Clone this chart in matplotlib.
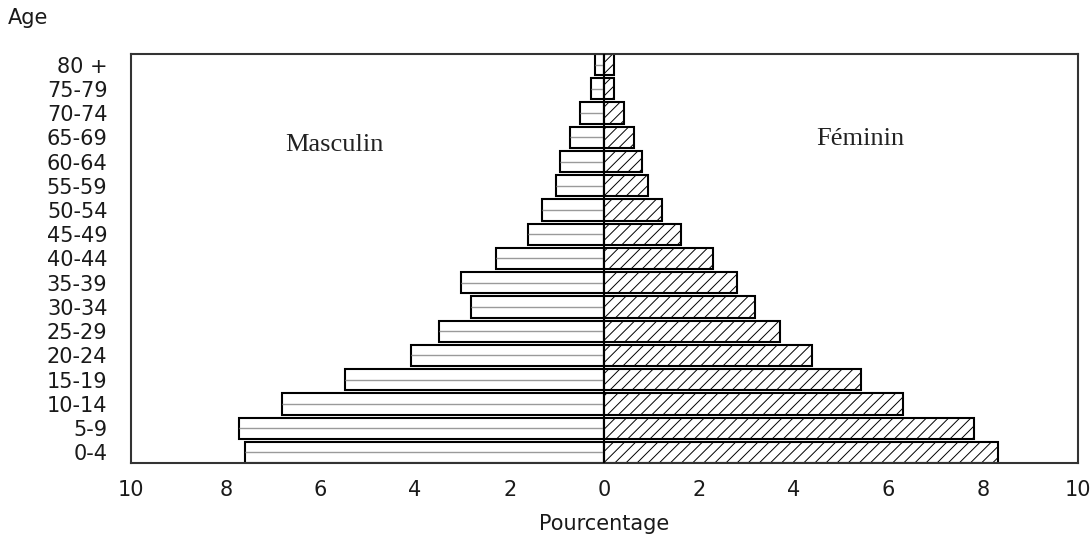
import matplotlib.pyplot as plt
import numpy as np

# age groups, bottom to top
ages = ["0-4", "5-9", "10-14", "15-19", "20-24", "25-29", "30-34", "35-39",
        "40-44", "45-49", "50-54", "55-59", "60-64", "65-69", "70-74",
        "75-79", "80 +"]
male = [7.6, 7.72, 6.82, 5.49, 4.09, 3.49, 2.81, 3.02,
        2.30, 1.62, 1.31, 1.02, 0.94, 0.73, 0.51, 0.29, 0.21]
female = [8.31, 7.80, 6.30, 5.41, 4.38, 3.70, 3.18, 2.80,
          2.29, 1.61, 1.22, 0.92, 0.80, 0.62, 0.41, 0.20, 0.20]
xticks = [-10, -8, -6, -4, -2, 0, 2, 4, 6, 8, 10]

plt.rcParams['hatch.linewidth'] = 0.7

fig = plt.figure(figsize=(10.91, 5.35), dpi=100)
ax = fig.add_axes([0.1201, 0.1346, 0.8679, 0.7645])

y = np.arange(len(ages))
h = 0.875
m = -np.asarray(male)

ax.barh(y, m, height=h, color='white', edgecolor='black', linewidth=1.5, zorder=2)
ax.hlines(y, m, 0, colors='#9a9a9a', linewidth=1.0, zorder=3)
ax.barh(y, female, height=h, color='white', edgecolor='black', linewidth=1.5,
        hatch='///', zorder=2)
ax.axvline(0, color='black', linewidth=1.5, zorder=4)

ax.set_xlim(-10, 10)
ax.set_ylim(-h / 2, len(ages) - 1 + h / 2)
ax.set_xticks(xticks)
ax.set_xticklabels([str(abs(t)) for t in xticks])
ax.set_yticks(y)
ax.set_yticklabels(ages)
ax.tick_params(axis='both', length=0, labelsize=15, colors='#1a1a1a')
ax.tick_params(axis='x', pad=12)
ax.tick_params(axis='y', pad=17)
for s in ax.spines.values():
  s.set_linewidth(1.5)
  s.set_color('#333333')

ax.set_xlabel("Pourcentage", fontsize=15, labelpad=10, color='#1a1a1a')
fig.text(0.007, 0.966, "Age", fontsize=15, color='#1a1a1a', va='center', ha='left')

ax.text(-5.7, 12.7, "Masculin", family='Liberation Serif', fontsize=19,
        ha='center', va='center', color='#222222')
ax.text(5.4, 12.95, "Féminin", family='Liberation Serif', fontsize=19,
        ha='center', va='center', color='#222222')

fig.savefig("out.png", dpi=100)
